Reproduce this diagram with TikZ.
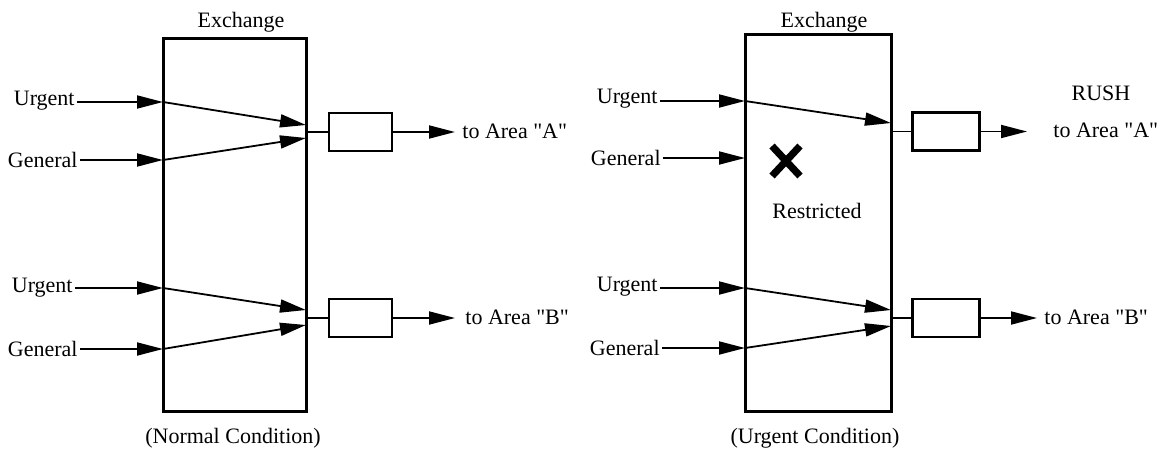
\documentclass[tikz,border=0pt]{standalone}
\usepackage{fontspec}
\setmainfont{Liberation Serif}[Ligatures=TeXOff]
\usetikzlibrary{arrows.meta}
\begin{document}
\begin{tikzpicture}[x=0.5pt,y=-0.5pt,
  font=\fontsize{11}{13}\selectfont,
  exbox/.style={draw, line width=1.5pt, inner sep=0pt, outer sep=0pt},
  gate/.style={draw, line width=1.1pt, minimum height=19pt, inner sep=0pt, outer sep=0pt},
  feed/.style={line width=0.9pt, -{Triangle[length=13pt,width=6.5pt]}},
  link/.style={line width=0.8pt},
  lbl/.style={inner sep=1pt},
  cross/.style={line width=3.6pt}]
\useasboundingbox (0,0) rectangle (1166,455);

% ---------- left exchange: normal condition ----------
\node[exbox, minimum width=71.5pt, minimum height=186.5pt] (exL) at (234.5,224.5) {};
\node (titleL) at (241,22) {Exchange};
\node (capL) at (233,438) {(Normal Condition)};

\node[lbl, anchor=east] (LuA) at (77,101) {Urgent};
\node[lbl, anchor=east] (LgA) at (80,160) {General};
\node[lbl, anchor=east] (LuB) at (75,288) {Urgent};
\node[lbl, anchor=east] (LgB) at (80,349) {General};

\coordinate (LuAin) at (163,102);
\coordinate (LgAin) at (163,160);
\coordinate (LuBin) at (163,288);
\coordinate (LgBin) at (163,349);
\coordinate (LuAout) at (306,125);
\coordinate (LgAout) at (306,138);
\coordinate (LuBout) at (306,310);
\coordinate (LgBout) at (306,325);

\draw[feed] (LuA.east |- LuAin) -- (LuAin);
\draw[feed] (LgA.east |- LgAin) -- (LgAin);
\draw[feed] (LuB.east |- LuBin) -- (LuBin);
\draw[feed] (LgB.east |- LgBin) -- (LgBin);
\draw[feed] (LuAin) -- (LuAout);
\draw[feed] (LgAin) -- (LgAout);
\draw[feed] (LuBin) -- (LuBout);
\draw[feed] (LgBin) -- (LgBout);

\node[gate, minimum width=31.5pt] (LgateA) at (360.5,132) {};
\node[gate, minimum width=31.5pt] (LgateB) at (360.5,318) {};
\draw[link] (exL.east |- LgateA.west) -- (LgateA.west);
\draw[link] (exL.east |- LgateB.west) -- (LgateB.west);
\coordinate (LoA) at (455,132);
\coordinate (LoB) at (455,318);
\draw[feed] (LgateA.east) -- (LoA);
\draw[feed] (LgateB.east) -- (LoB);
\node[lbl, anchor=west] (LtoA) at (460,131) {to Area "A"};
\node[lbl, anchor=west] (LtoB) at (463,317) {to Area "B"};

% ---------- right exchange: urgent condition ----------
\node[exbox, minimum width=73pt, minimum height=188.5pt] (exR) at (818,222.5) {};
\node (titleR) at (824,22) {Exchange};
\node (capR) at (815,438) {(Urgent Condition)};

\node[lbl, anchor=east] (RuA) at (660,99) {Urgent};
\node[lbl, anchor=east] (RgA) at (663,158) {General};
\node[lbl, anchor=east] (RuB) at (660,287) {Urgent};
\node[lbl, anchor=east] (RgB) at (662,348) {General};

\coordinate (RuAin) at (745,101);
\coordinate (RgAin) at (745,158);
\coordinate (RuBin) at (745,288);
\coordinate (RgBin) at (745,348);
\coordinate (RuAout) at (891,123);
\coordinate (RuBout) at (891,310);
\coordinate (RgBout) at (891,326);

\draw[feed] (RuA.east |- RuAin) -- (RuAin);
\draw[feed] (RgA.east |- RgAin) -- (RgAin);
\draw[feed] (RuB.east |- RuBin) -- (RuBin);
\draw[feed] (RgB.east |- RgBin) -- (RgBin);
\draw[feed] (RuAin) -- (RuAout);
\draw[feed] (RuBin) -- (RuBout);
\draw[feed] (RgBin) -- (RgBout);

% general traffic blocked
\coordinate (xa) at (772,146);
\coordinate (xb) at (800,176);
\coordinate (xc) at (800,146);
\coordinate (xd) at (772,176);
\draw[cross] (xa) -- (xb);
\draw[cross] (xc) -- (xd);
\node (restr) at (817,211) {Restricted};

\node[gate, minimum width=33.5pt] (RgateA) at (946,131.5) {};
\node[gate, minimum width=33.5pt] (RgateB) at (946,318) {};
\draw[link] (exR.east |- RgateA.west) -- (RgateA.west);
\draw[link] (exR.east |- RgateB.west) -- (RgateB.west);
\coordinate (RoA) at (1027,131.5);
\coordinate (RoB) at (1037,318);
\draw[feed] (RgateA.east) -- (RoA);
\draw[feed] (RgateB.east) -- (RoB);
\node (rush) at (1101,93) {RUSH};
\node[lbl, anchor=west] (RtoA) at (1051,130) {to Area "A"};
\node[lbl, anchor=west] (RtoB) at (1042,317) {to Area "B"};
\end{tikzpicture}
\end{document}
